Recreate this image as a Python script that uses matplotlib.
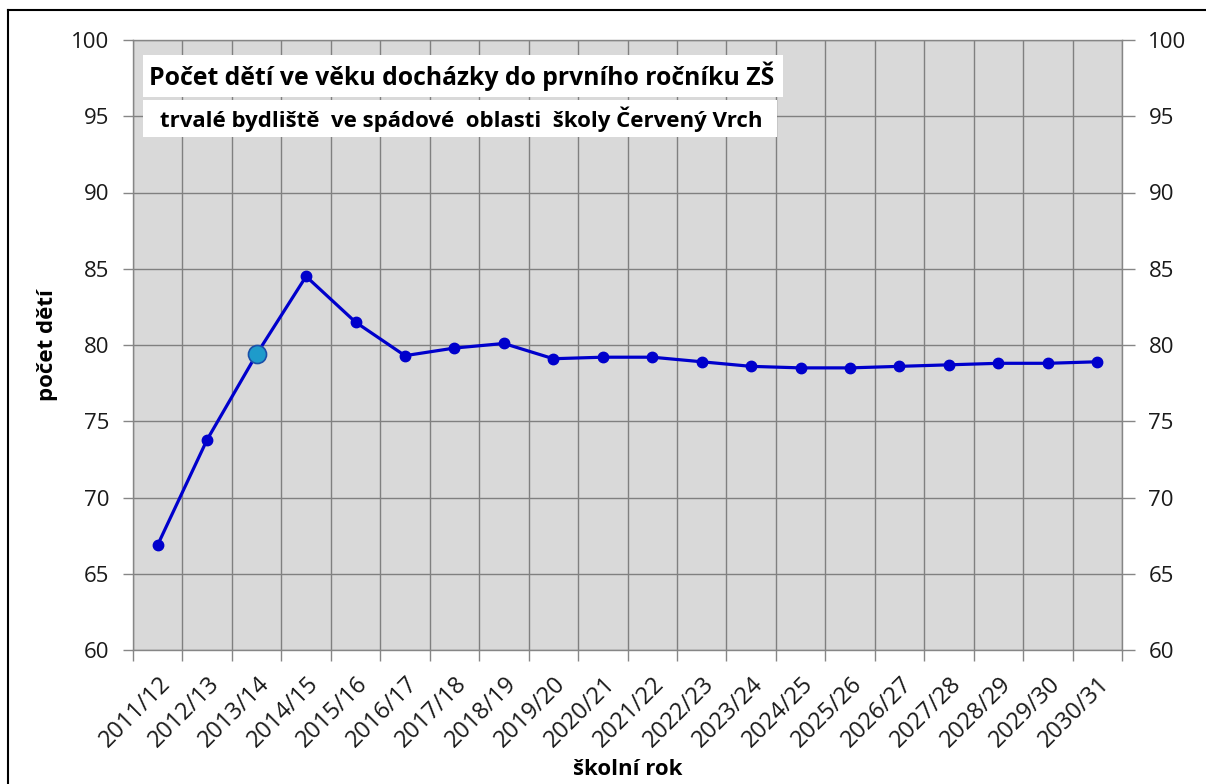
import numpy as np
import matplotlib
matplotlib.use('Agg')
import matplotlib.pyplot as plt
import matplotlib.transforms as mtransforms
from matplotlib.patches import Rectangle

# školní roky
roky = ['2011/12', '2012/13', '2013/14', '2014/15', '2015/16', '2016/17', '2017/18',
        '2018/19', '2019/20', '2020/21', '2021/22', '2022/23', '2023/24', '2024/25',
        '2025/26', '2026/27', '2027/28', '2028/29', '2029/30', '2030/31']

# počet dětí
pocet = [66.9, 73.8, 79.4, 84.5, 81.5, 79.3, 79.8, 80.1, 79.1, 79.2, 79.2, 78.9,
         78.6, 78.5, 78.5, 78.6, 78.7, 78.8, 78.8, 78.9]

# zvýrazněný rok
zvyrazneny = 2

y_ticks = [60, 65, 70, 75, 80, 85, 90, 95, 100]

plt.rcParams['font.family'] = ['Open Sans', 'DejaVu Sans']

fig = plt.figure(figsize=(12.06, 7.84), dpi=100)
ax = fig.add_axes([133 / 1206, 1 - 650 / 784, (1122 - 133) / 1206, (650 - 40) / 784])

# ramecek kolem celeho grafu
fig.add_artist(plt.Line2D([8 / 1206, 1], [1 - 10 / 784, 1 - 10 / 784],
                          transform=fig.transFigure, color='black', lw=1.5))
fig.add_artist(plt.Line2D([8 / 1206, 8 / 1206], [0, 1 - 10 / 784],
                          transform=fig.transFigure, color='black', lw=1.5))

x = np.arange(len(roky))
ax.set_facecolor('#d9d9d9')
ax.plot(x, pocet, color='#0000cc', lw=2.3, marker='o', ms=7.5,
        mfc='#0000cc', mec='#0000cc', zorder=3)
ax.plot(x[zvyrazneny], pocet[zvyrazneny], marker='o', ms=13, mfc='#1e9bcb',
        mec='#1a4fa8', mew=1.2, zorder=4)

ax.set_xlim(-0.5, len(roky) - 0.5)
ax.set_ylim(60, 100)
ax.set_yticks(y_ticks)
ax.set_xticks(x)
ax.set_xticklabels(roky, rotation=45, ha='right', va='center', rotation_mode='anchor')
ax.set_xticks(np.arange(-0.5, len(roky), 1), minor=True)
ax.tick_params(axis='x', which='major', length=0, pad=22, labelsize=17, colors='#1a1a1a')
ax.tick_params(axis='x', which='minor', length=8, color='#868686', width=1)
ax.tick_params(axis='y', length=7, color='#868686', width=1, labelsize=16,
               colors='#1a1a1a', pad=10)

# popisky osy x trochu doprava
posun = mtransforms.ScaledTranslation(9 / 100, 0, fig.dpi_scale_trans)
for lbl in ax.get_xticklabels():
    lbl.set_transform(lbl.get_transform() + posun)

ax.grid(True, which='minor', axis='x', color='#808080', lw=1)
ax.grid(True, which='major', axis='y', color='#808080', lw=1)
ax.set_axisbelow(True)
for s in ax.spines.values():
    s.set_color('#868686')
    s.set_linewidth(1)

ax2 = ax.twinx()
ax2.set_ylim(60, 100)
ax2.set_yticks(y_ticks)
ax2.tick_params(axis='y', length=9, color='#868686', width=1, labelsize=16,
                colors='#1a1a1a', pad=10)
for s in ax2.spines.values():
    s.set_visible(False)

ax.set_ylabel('počet dětí', fontsize=16, fontweight='bold')
ax.yaxis.set_label_coords(-75 / 989, 0.5)
ax.set_xlabel('školní rok', fontsize=16, fontweight='bold')
ax.xaxis.set_label_coords(0.5, -109 / 610)

# nadpisy v bilych ramecich
fig.add_artist(Rectangle((143 / 1206, 1 - 97 / 784), 640 / 1206, 42 / 784,
                         transform=fig.transFigure, facecolor='white', edgecolor='none'))
fig.add_artist(Rectangle((143 / 1206, 1 - 137 / 784), 634 / 1206, 37 / 784,
                         transform=fig.transFigure, facecolor='white', edgecolor='none'))
fig.text(462 / 1206, 1 - 76 / 784, 'Počet dětí ve věku docházky do prvního ročníku ZŠ',
         ha='center', va='center', fontsize=17.8, fontweight='bold')
fig.text(461 / 1206, 1 - 119 / 784, 'trvalé bydliště  ve spádové  oblasti  školy Červený Vrch',
         ha='center', va='center', fontsize=16, fontweight='bold')

fig.savefig('out.png', dpi=100)
